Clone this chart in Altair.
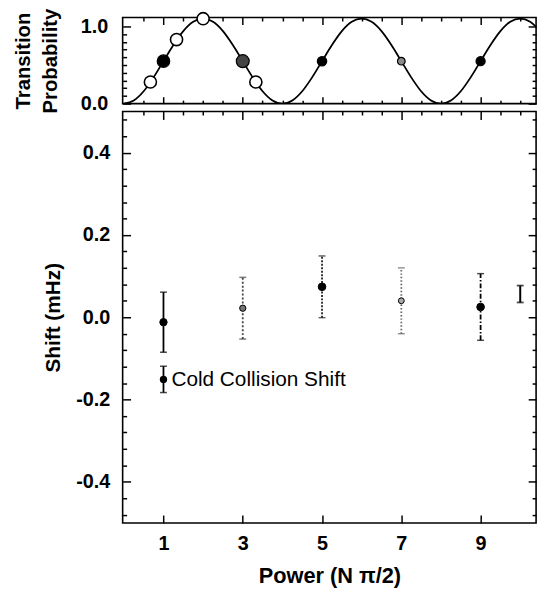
import altair as alt
import pandas as pd

FONT = "Liberation Sans"

# ---------------- data ----------------
# theory curve of the top panel
curve_n = [0, 0.25, 0.5, 0.75, 1, 1.25, 1.5, 1.75, 2, 2.25, 2.5, 2.75, 3, 3.25, 3.5, 3.75,
           4, 4.25, 4.5, 4.75, 5, 5.25, 5.5, 5.75, 6, 6.25, 6.5, 6.75, 7, 7.25, 7.5, 7.75,
           8, 8.25, 8.5, 8.75, 9, 9.25, 9.5, 9.75, 10, 10.25, 10.5]
curve_p = [0, 0.04, 0.16, 0.34, 0.55, 0.76, 0.94, 1.06, 1.10, 1.06, 0.94, 0.76, 0.55, 0.34, 0.16, 0.04,
           0, 0.04, 0.16, 0.34, 0.55, 0.76, 0.94, 1.06, 1.10, 1.06, 0.94, 0.76, 0.55, 0.34, 0.16, 0.04,
           0, 0.04, 0.16, 0.34, 0.55, 0.76, 0.94, 1.06, 1.10, 1.06, 0.94]

# open circles on the curve
open_n = [0.67, 1.33, 2.0, 3.33]
open_p = [0.28, 0.83, 1.10, 0.28]

# marked points on the curve (N = 1, 3, 5, 7, 9)
mark_n = [1, 3, 5, 7, 9]
mark_p = [0.55, 0.55, 0.55, 0.55, 0.55]
mark_fill = ["black", "#444444", "black", "#8a8a8a", "black"]
mark_size = [160, 170, 90, 60, 85]

# measured shifts (mHz)
shift_n = [1, 3, 5, 7, 9]
shift_v = [-0.012, 0.022, 0.074, 0.040, 0.025]
shift_err = [0.073, 0.075, 0.075, 0.080, 0.081]
shift_style = ["solid", "dot", "dot2", "dot3", "dashdot"]
shift_color = ["black", "#444444", "#222222", "#666666", "black"]
shift_fill = ["black", "#777777", "black", "#aaaaaa", "black"]
shift_size = [55, 40, 60, 35, 60]

# cold collision shift marker
cold_n = [1]
cold_v = [-0.151]
cold_err = [0.032]
cold_label = ["Cold Collision Shift"]

# lone systematic bar at the right
sys_n = [10.0]
sys_lo = [0.036]
sys_hi = [0.077]

# axis tick values
x_major = [1, 3, 5, 7, 9]
x_minor = [0.5, 1.5, 2, 2.5, 3.5, 4, 4.5, 5.5, 6, 6.5, 7.5, 8, 8.5, 9.5, 10]
p_major = [0, 1]
p_minor = [0.1, 0.2, 0.3, 0.4, 0.5, 0.6, 0.7, 0.8, 0.9]
s_major = [-0.4, -0.2, 0, 0.2, 0.4]
s_minor = [-0.48, -0.44, -0.36, -0.32, -0.28, -0.24, -0.16, -0.12, -0.08, -0.04,
           0.04, 0.08, 0.12, 0.16, 0.24, 0.28, 0.32, 0.36, 0.44, 0.48]

# ---------------- tables ----------------
curve_df = pd.DataFrame({"N": curve_n, "P": curve_p})
open_df = pd.DataFrame({"N": open_n, "P": open_p})
mark_df = pd.DataFrame({"N": mark_n, "P": mark_p, "fill": mark_fill, "size": mark_size})
shift_df = pd.DataFrame({"N": shift_n, "v": shift_v, "err": shift_err, "style": shift_style,
                         "color": shift_color, "fill": shift_fill, "size": shift_size})
shift_df["lo"] = shift_df["v"] - shift_df["err"]
shift_df["hi"] = shift_df["v"] + shift_df["err"]
cold_df = pd.DataFrame({"N": cold_n, "v": cold_v, "err": cold_err, "label": cold_label})
cold_df["lo"] = cold_df["v"] - cold_df["err"]
cold_df["hi"] = cold_df["v"] + cold_df["err"]
sys_df = pd.DataFrame({"N": sys_n, "lo": sys_lo, "hi": sys_hi})

W = 418
H_TOP = 87
H_BOT = 416

xs = alt.Scale(domain=[-0.03, 10.4], nice=False, zero=False)
ps = alt.Scale(domain=[0, 1.115], nice=False, zero=False)
ss = alt.Scale(domain=[-0.5, 0.5], nice=False, zero=False)

AX = dict(domain=False, grid=False, tickColor="black", tickWidth=1.5,
          labelFont=FONT, labelFontWeight="bold", labelColor="black",
          titleFont=FONT, titleFontWeight="bold", titleColor="black")


def ax(orient, values, size, labels=False, **kw):
    d = dict(AX)
    d.update(kw)
    if not labels:
        d["title"] = None
    return alt.Axis(orient=orient, values=values, tickSize=size, offset=-size,
                    labels=labels, **d)


def axis_layer(df, xf, yf, xscale, yscale, xaxis, yaxis):
    return alt.Chart(df).mark_point(opacity=0).encode(
        x=alt.X(xf, type="quantitative", scale=xscale, axis=xaxis),
        y=alt.Y(yf, type="quantitative", scale=yscale, axis=yaxis),
    )


# ---------------- top panel ----------------
curve = alt.Chart(curve_df).mark_line(color="black", strokeWidth=1.8, clip=True,
                                      interpolate="monotone").encode(
    x=alt.X("N:Q", scale=xs, axis=None),
    y=alt.Y("P:Q", scale=ps, axis=None),
)
open_pts = alt.Chart(open_df).mark_point(shape="circle", filled=False, fill="white",
                                         stroke="black", strokeWidth=1.6, size=150,
                                         opacity=1).encode(
    x=alt.X("N:Q", scale=xs, axis=None),
    y=alt.Y("P:Q", scale=ps, axis=None),
)
mark_pts = alt.Chart(mark_df).mark_point(shape="circle", filled=True, stroke="black",
                                         strokeWidth=1.2, opacity=1).encode(
    x=alt.X("N:Q", scale=xs, axis=None),
    y=alt.Y("P:Q", scale=ps, axis=None),
    fill=alt.Fill("fill:N", scale=None),
    size=alt.Size("size:Q", scale=None),
)

top_axes = [
    axis_layer(curve_df, "N", "P", xs, ps,
               ax("bottom", x_major, 7),
               ax("left", p_major, 8, labels=True, format=".1f", labelFontSize=20,
                  labelPadding=15, title=["Transition", "Probability"], titleFontSize=20.5,
                  titleLineHeight=27, titlePadding=20)),
    axis_layer(curve_df, "N", "P", xs, ps, ax("bottom", x_minor, 3.5), ax("left", p_minor, 4)),
    axis_layer(curve_df, "N", "P", xs, ps, ax("top", x_major, 7), ax("right", p_major, 8)),
    axis_layer(curve_df, "N", "P", xs, ps, ax("top", x_minor, 3.5), ax("right", p_minor, 4)),
]

top = alt.layer(*top_axes, curve, open_pts, mark_pts).resolve_axis(
    x="independent", y="independent").properties(width=W, height=H_TOP)

# ---------------- bottom panel ----------------
dash_scale = alt.Scale(domain=["solid", "dot", "dot2", "dot3", "dashdot"],
                       range=[[1, 0], [2, 2], [2, 1.5], [1.5, 2], [5, 2, 1.5, 2]])

bars = alt.Chart(shift_df).mark_rule(strokeWidth=1.8).encode(
    x=alt.X("N:Q", scale=xs, axis=None),
    y=alt.Y("lo:Q", scale=ss, axis=None),
    y2="hi:Q",
    color=alt.Color("color:N", scale=None),
    strokeDash=alt.StrokeDash("style:N", scale=dash_scale, legend=None),
)
caps_lo = alt.Chart(shift_df).mark_tick(orient="horizontal", size=7, thickness=1.5).encode(
    x=alt.X("N:Q", scale=xs, axis=None),
    y=alt.Y("lo:Q", scale=ss, axis=None),
    color=alt.Color("color:N", scale=None),
)
caps_hi = alt.Chart(shift_df).mark_tick(orient="horizontal", size=7, thickness=1.5).encode(
    x=alt.X("N:Q", scale=xs, axis=None),
    y=alt.Y("hi:Q", scale=ss, axis=None),
    color=alt.Color("color:N", scale=None),
)
shift_pts = alt.Chart(shift_df).mark_point(shape="circle", filled=True, stroke="black",
                                           strokeWidth=1, opacity=1).encode(
    x=alt.X("N:Q", scale=xs, axis=None),
    y=alt.Y("v:Q", scale=ss, axis=None),
    fill=alt.Fill("fill:N", scale=None),
    size=alt.Size("size:Q", scale=None),
)

cold_bar = alt.Chart(cold_df).mark_rule(strokeWidth=1.8, color="black").encode(
    x=alt.X("N:Q", scale=xs, axis=None),
    y=alt.Y("lo:Q", scale=ss, axis=None),
    y2="hi:Q",
)
cold_lo = alt.Chart(cold_df).mark_tick(orient="horizontal", size=7, thickness=1.5,
                                       color="black").encode(
    x=alt.X("N:Q", scale=xs, axis=None),
    y=alt.Y("lo:Q", scale=ss, axis=None),
)
cold_hi = alt.Chart(cold_df).mark_tick(orient="horizontal", size=7, thickness=1.5,
                                       color="black").encode(
    x=alt.X("N:Q", scale=xs, axis=None),
    y=alt.Y("hi:Q", scale=ss, axis=None),
)
cold_pt = alt.Chart(cold_df).mark_point(shape="circle", filled=True, color="black",
                                        size=55, opacity=1).encode(
    x=alt.X("N:Q", scale=xs, axis=None),
    y=alt.Y("v:Q", scale=ss, axis=None),
)
cold_txt = alt.Chart(cold_df).mark_text(align="left", baseline="middle", dx=8, dy=1,
                                        font=FONT, fontSize=21, color="black").encode(
    x=alt.X("N:Q", scale=xs, axis=None),
    y=alt.Y("v:Q", scale=ss, axis=None),
    text="label:N",
)

sys_bar = alt.Chart(sys_df).mark_rule(strokeWidth=2, color="black").encode(
    x=alt.X("N:Q", scale=xs, axis=None),
    y=alt.Y("lo:Q", scale=ss, axis=None),
    y2="hi:Q",
)
sys_lo_t = alt.Chart(sys_df).mark_tick(orient="horizontal", size=7, thickness=1.8,
                                       color="black").encode(
    x=alt.X("N:Q", scale=xs, axis=None),
    y=alt.Y("lo:Q", scale=ss, axis=None),
)
sys_hi_t = alt.Chart(sys_df).mark_tick(orient="horizontal", size=7, thickness=1.8,
                                       color="black").encode(
    x=alt.X("N:Q", scale=xs, axis=None),
    y=alt.Y("hi:Q", scale=ss, axis=None),
)

neg_label = "datum.value < 0 ? '-' + format(abs(datum.value), '.1f') : format(datum.value, '.1f')"

bot_axes = [
    axis_layer(shift_df, "N", "v", xs, ss,
               ax("bottom", x_major, 8, labels=True, format="d", labelFontSize=20,
                  labelPadding=11, title="Power (N \u03c0/2)", titleFontSize=22,
                  titlePadding=12),
               ax("left", s_major, 8, labels=True, labelExpr=neg_label, labelFontSize=20,
                  labelPadding=13, title="Shift (mHz)", titleFontSize=21, titlePadding=12)),
    axis_layer(shift_df, "N", "v", xs, ss, ax("top", x_major, 8), ax("left", s_minor, 4)),
    axis_layer(shift_df, "N", "v", xs, ss, ax("top", x_minor, 3.5), ax("right", s_major, 8)),
    axis_layer(shift_df, "N", "v", xs, ss, ax("bottom", x_minor, 0.1), ax("right", s_minor, 4)),
]

bottom = alt.layer(*bot_axes, bars, caps_lo, caps_hi, shift_pts,
                   cold_bar, cold_lo, cold_hi, cold_pt, cold_txt,
                   sys_bar, sys_lo_t, sys_hi_t).resolve_axis(
    x="independent", y="independent").properties(width=W, height=H_BOT)

chart = alt.vconcat(top, bottom, spacing=8, bounds="flush").properties(
    padding={"left": 13, "top": 3.5, "right": 0, "bottom": 0},
    background="white",
).configure_view(stroke="black", strokeWidth=1.6)

chart.save("out.html", embed_options={"renderer": "svg", "actions": False})
